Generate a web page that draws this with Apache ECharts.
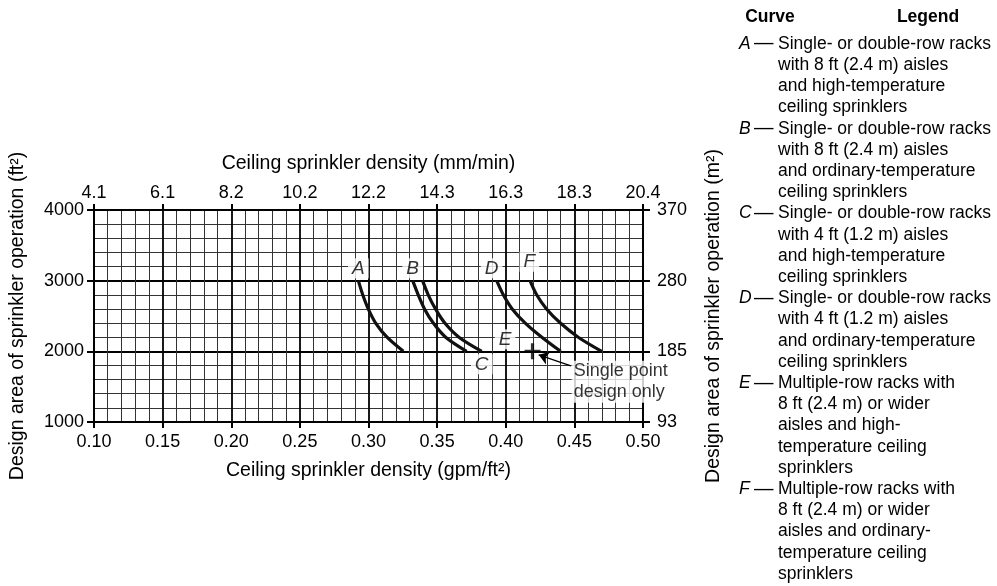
<!DOCTYPE html>
<html>
<head>
<meta charset="utf-8">
<script src="https://cdn.jsdelivr.net/npm/echarts@6/dist/echarts.min.js"></script>
<style>
html,body{margin:0;padding:0;background:#fff;}
#chart{width:997px;height:586px;}
</style>
</head>
<body>
<div id="chart"></div>
<script>
// ---- data ----
const gpmTicks = [0.10, 0.15, 0.20, 0.25, 0.30, 0.35, 0.40, 0.45, 0.50];
const mmTicks = ['4.1', '6.1', '8.2', '10.2', '12.2', '14.3', '16.3', '18.3', '20.4'];
const ft2Ticks = [1000, 2000, 3000, 4000];
const m2Ticks = ['93', '185', '280', '370'];

const curveA = [[0.2926, 3000], [0.2958, 2800], [0.2998, 2600], [0.3052, 2400], [0.3135, 2200], [0.3254, 2000]];
const curveB = [[0.3322, 3000], [0.3362, 2800], [0.3408, 2600], [0.3472, 2400], [0.3562, 2200], [0.3715, 2000]];
const curveC = [[0.3394, 3000], [0.3435, 2800], [0.3488, 2600], [0.3556, 2400], [0.3659, 2200], [0.3825, 2000]];
const curveD = [[0.3934, 3000], [0.3982, 2800], [0.4047, 2600], [0.4142, 2400], [0.4263, 2200], [0.4400, 2000]];
const curveF = [[0.4177, 3000], [0.4225, 2800], [0.4297, 2600], [0.4398, 2400], [0.4528, 2200], [0.4699, 2000]];
const pointE = [0.4195, 2000];

const curveLabels = [
  ['A', 0.2926, 3175], ['B', 0.3322, 3175], ['C', 0.3825, 1817],
  ['D', 0.3897, 3175], ['E', 0.3995, 2170], ['F', 0.4172, 3268]
];
const noteText = ['Single point', 'design only'];
const notePos = [0.4480, 1570];
const arrowFromTo = [[0.4475, 1793], [0.4240, 1950]];

const legendLetters = ['A', 'B', 'C', 'D', 'E', 'F'];
const legendLines = [
  ['Single- or double-row racks', 'with 8 ft (2.4 m) aisles', 'and high-temperature', 'ceiling sprinklers'],
  ['Single- or double-row racks', 'with 8 ft (2.4 m) aisles', 'and ordinary-temperature', 'ceiling sprinklers'],
  ['Single- or double-row racks', 'with 4 ft (1.2 m) aisles', 'and high-temperature', 'ceiling sprinklers'],
  ['Single- or double-row racks', 'with 4 ft (1.2 m) aisles', 'and ordinary-temperature', 'ceiling sprinklers'],
  ['Multiple-row racks with', '8 ft (2.4 m) or wider', 'aisles and high-', 'temperature ceiling', 'sprinklers'],
  ['Multiple-row racks with', '8 ft (2.4 m) or wider', 'aisles and ordinary-', 'temperature ceiling', 'sprinklers']
];

// ---- chart ----
const FONT = 'Liberation Sans, Arial, Helvetica, sans-serif';
const chart = echarts.init(document.getElementById('chart'), null, {renderer: 'canvas'});

const xBase = {
  type: 'value', min: 0.10, max: 0.50, interval: 0.05,
  axisLine: {show: true, onZero: false, lineStyle: {color: '#000', width: 2}},
  axisTick: {show: true, inside: false, length: 6, lineStyle: {color: '#000', width: 2}},
  nameLocation: 'middle',
  nameTextStyle: {fontFamily: FONT, fontSize: 19.5, color: '#000'}
};
const yBase = {
  type: 'value', min: 1000, max: 4000, interval: 1000,
  axisLine: {show: true, onZero: false, lineStyle: {color: '#000', width: 2}},
  axisTick: {show: true, inside: false, length: 7, lineStyle: {color: '#000', width: 2}},
  nameLocation: 'middle', nameRotate: 90,
  nameTextStyle: {fontFamily: FONT, fontSize: 19.5, color: '#000'}
};
const labelStyle = {fontFamily: FONT, fontSize: 18, color: '#000'};

const curveSeries = [curveA, curveB, curveC, curveD, curveF].map((d, i) => ({
  name: ['A', 'B', 'C', 'D', 'F'][i],
  type: 'line', data: d, smooth: 0.3, symbol: 'none',
  lineStyle: {color: '#111', width: 3.2}, z: 3
}));

const LFONT = 17.5;
const legendGraphics = [];
const txt = (x, y, text, font, align) => ({type: 'text', x, y, style: {text, font, fill: '#000', align, verticalAlign: 'middle', textAlign: align, textVerticalAlign: 'middle'}});
legendGraphics.push(txt(770, 17, 'Curve', 'bold ' + LFONT + 'px ' + FONT, 'center'));
legendGraphics.push(txt(928, 17, 'Legend', 'bold ' + LFONT + 'px ' + FONT, 'center'));
let lineIdx = 0;
const LY0 = 44, LH = 21.2;
legendLetters.forEach((L, gi) => {
  const y0 = LY0 + lineIdx * LH;
  legendGraphics.push(txt(739, y0, L, 'italic ' + LFONT + 'px ' + FONT, 'left'));
  legendGraphics.push(txt(754, y0, '\u2014', (LFONT + 2) + 'px ' + FONT, 'left'));
  legendLines[gi].forEach(t => {
    legendGraphics.push(txt(778, LY0 + lineIdx * LH, t, LFONT + 'px ' + FONT, 'left'));
    lineIdx++;
  });
});

const option = {
  backgroundColor: '#fff',
  animation: false,
  grid: {left: 94, right: 354, top: 210, bottom: 164, containLabel: false, outerBoundsMode: 'none'},
  xAxis: [
    Object.assign({}, xBase, {
      position: 'bottom',
      name: 'Ceiling sprinkler density (gpm/ft\u00B2)', nameGap: 39,
      axisLabel: Object.assign({}, labelStyle, {margin: 11, formatter: v => v.toFixed(2)}),
      splitLine: {show: true, lineStyle: {color: '#000', width: 1.8}},
      minorTick: {show: false, splitNumber: 5},
      minorSplitLine: {show: true, lineStyle: {color: '#333', width: 1}}
    }),
    Object.assign({}, xBase, {
      position: 'top',
      name: 'Ceiling sprinkler density (mm/min)', nameGap: 36,
      axisLabel: Object.assign({}, labelStyle, {margin: 8, formatter: v => {
        const i = gpmTicks.findIndex(t => Math.abs(t - v) < 1e-6);
        return i >= 0 ? mmTicks[i] : '';
      }}),
      splitLine: {show: false}
    })
  ],
  yAxis: [
    Object.assign({}, yBase, {
      position: 'left',
      name: 'Design area of sprinkler operation (ft\u00B2)', nameGap: 66,
      axisLabel: Object.assign({}, labelStyle, {margin: 10, formatter: v => String(v)}),
      splitLine: {show: true, lineStyle: {color: '#000', width: 1.8}},
      minorTick: {show: false, splitNumber: 5},
      minorSplitLine: {show: true, lineStyle: {color: '#333', width: 1}}
    }),
    Object.assign({}, yBase, {
      position: 'right',
      name: 'Design area of sprinkler operation (m\u00B2)', nameGap: 61,
      axisLabel: Object.assign({}, labelStyle, {margin: 14, formatter: v => {
        const i = ft2Ticks.indexOf(v);
        return i >= 0 ? m2Ticks[i] : '';
      }}),
      splitLine: {show: false}
    })
  ],
  graphic: legendGraphics,
  series: curveSeries.concat([
    {
      name: 'E', type: 'scatter', data: [pointE],
      symbol: 'path://M0,4H10V6H0Z M4,0H6V10H4Z', symbolSize: 16,
      itemStyle: {color: '#000'}, z: 4
    },
    {
      name: 'arrow', type: 'lines', coordinateSystem: 'cartesian2d',
      data: [{coords: arrowFromTo}],
      symbol: ['none', 'arrow'], symbolSize: 10,
      lineStyle: {color: '#000', width: 1.3, opacity: 1}, z: 5
    },
    {
      name: 'note', type: 'scatter', data: [notePos], symbolSize: 0,
      label: {
        show: true, position: 'right', distance: 0,
        formatter: noteText.join('\n'),
        fontFamily: FONT, fontSize: 18, lineHeight: 21, color: '#000',
        backgroundColor: '#fff', padding: [0, 2, 0, 2], align: 'left'
      }, z: 6
    },
    {
      name: 'labels', type: 'scatter', symbolSize: 0,
      data: curveLabels.map(d => ({name: d[0], value: [d[1], d[2]]})),
      label: {
        show: true, position: 'inside', formatter: p => p.name,
        fontFamily: FONT, fontSize: 19, fontStyle: 'italic', color: '#000',
        backgroundColor: '#fff', padding: [1, 4, 0, 4]
      }, z: 6
    }
  ])
};
chart.setOption(option);
</script>
</body>
</html>
